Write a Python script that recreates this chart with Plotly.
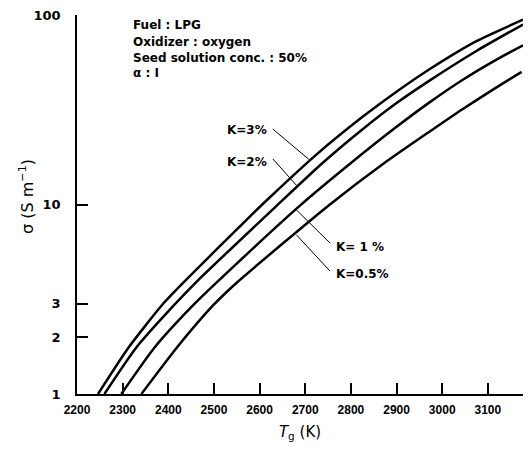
import numpy as np
import plotly.graph_objects as go

# ---- data (T in K, sigma in S/m) ----
t_k3 = [2246, 2313, 2390, 2440, 2578, 2615, 2725, 2827, 2900, 2973, 3075, 3177]
s_k3 = [1.0, 1.76, 3.02, 4.03, 8.61, 10.5, 18.4, 29.2, 39.4, 51.9, 72.8, 94.4]

t_k2 = [2260, 2330, 2413, 2465, 2636, 2736, 2827, 2900, 2973, 3075, 3177]
s_k2 = [1.0, 1.76, 2.95, 3.98, 9.77, 16.4, 25.1, 34.3, 45.2, 64.6, 89.1]

t_k1 = [2297, 2370, 2455, 2509, 2689, 2798, 2900, 2973, 3046, 3119, 3177]
s_k1 = [1.0, 1.76, 2.95, 3.94, 9.89, 16.4, 25.7, 34.7, 45.7, 58.2, 69.2]

t_k05 = [2341, 2419, 2499, 2551, 2754, 2871, 2973, 3046, 3119, 3174]
s_k05 = [1.0, 1.76, 2.95, 3.89, 10.0, 16.4, 24.3, 32.0, 41.5, 50.1]

x_ticks = [2200, 2300, 2400, 2500, 2600, 2700, 2800, 2900, 3000, 3100]
y_ticks = [1, 2, 3, 10, 100]
y_ticklabels = ["1", "2", "3", "10", "100"]

info_lines = ["Fuel : LPG", "Oxidizer : oxygen", "Seed solution conc. : 50%", "α : I"]

FONT = "DejaVu Sans"
TICKFONT = "Liberation Sans"

fig = go.Figure()
for tx, sy in [(t_k3, s_k3), (t_k2, s_k2), (t_k1, s_k1), (t_k05, s_k05)]:
    fig.add_trace(go.Scatter(x=tx, y=sy, mode="lines",
                             line=dict(color="black", width=2.5, shape="spline", smoothing=0.6),
                             showlegend=False, hoverinfo="skip"))

# curve labels: (text, text_x, text_y, anchor, leader tail (T, sigma), leader tip (T, sigma))
labels = [
    ("K=3%", 2620, 24.7, "right", (2629, 25.0), (2708, 17.3)),
    ("K=2%", 2620, 16.8, "right", (2629, 17.4), (2681, 12.6)),
    ("K= 1 %", 2762, 6.0, "left", (2754, 6.27), (2678, 9.5)),
    ("K=0.5%", 2762, 4.3, "left", (2754, 4.46), (2681, 6.9)),
]
for txt, tx, ty, anc, tail, tip in labels:
    fig.add_annotation(x=tx, y=np.log10(ty), xref="x", yref="y", text=txt,
                       showarrow=False, xanchor=anc, yanchor="middle",
                       font=dict(family=FONT, size=12, color="black", weight="bold"))
    fig.add_shape(type="line", xref="x", yref="y", x0=tail[0], y0=tail[1],
                  x1=tip[0], y1=tip[1], line=dict(color="black", width=1))

info_y = [0.974, 0.929, 0.887, 0.846]
for line, yy in zip(info_lines, info_y):
    fig.add_annotation(x=0.122, y=yy, xref="paper", yref="paper", text=line,
                       showarrow=False, xanchor="left", yanchor="middle",
                       font=dict(family=FONT, size=12, color="black", weight="bold"))

# y-axis title placed as rotated text
fig.add_annotation(x=-0.112, y=0.52, xref="paper", yref="paper",
                   text="σ (S m<sup>−1</sup>)", textangle=-90, showarrow=False,
                   xanchor="center", yanchor="middle",
                   font=dict(family=FONT, size=16, color="black"))

fig.update_layout(
    width=531, height=449,
    margin=dict(l=77, r=8, t=12, b=55),
    paper_bgcolor="white", plot_bgcolor="white",
    font=dict(family=FONT, color="black"),
    showlegend=False,
)
fig.update_xaxes(range=[2200, 3177], tickvals=x_ticks, ticktext=[str(v) for v in x_ticks],
                 ticks="inside", ticklen=11, tickwidth=1.5, tickcolor="black",
                 showline=True, linecolor="black", linewidth=1.5, showgrid=False, zeroline=False,
                 tickfont=dict(family=TICKFONT, size=12, color="black", weight="bold"), ticklabelstandoff=4,
                 title=dict(text="<i>T</i><sub>g</sub> (K)",
                            font=dict(family=FONT, size=15, color="black"), standoff=10))
fig.update_yaxes(type="log", range=[0, 2], tickvals=y_ticks, ticktext=y_ticklabels,
                 ticks="inside", ticklen=11, tickwidth=1.5, tickcolor="black",
                 showline=True, linecolor="black", linewidth=1.5, showgrid=False, zeroline=False,
                 tickfont=dict(family=FONT, size=13, color="black", weight="bold"), ticklabelstandoff=12)

fig.write_html("out.html")
